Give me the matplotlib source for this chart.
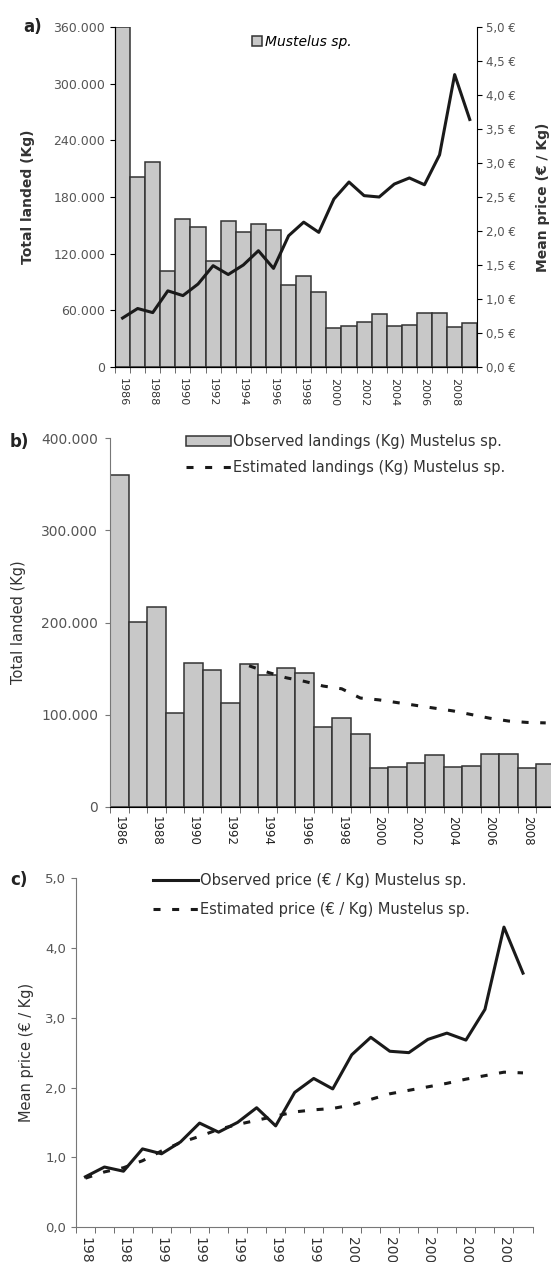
import matplotlib.pyplot as plt
import numpy as np

# datos
years = list(range(1986, 2010))
landings = [360000, 201000, 217000, 102000, 156500, 148000, 112500, 154500,
            142500, 151000, 145000, 86500, 96000, 79000, 41700, 43500,
            47500, 56500, 43500, 44500, 57000, 57000, 42000, 46500]
price_obs = [0.72, 0.86, 0.80, 1.12, 1.05, 1.22, 1.49, 1.36, 1.50, 1.71, 1.45, 1.93,
             2.13, 1.98, 2.47, 2.72, 2.52, 2.50, 2.69, 2.78, 2.68, 3.12, 4.30, 3.64]
est_years = list(range(1993, 2010))
landings_est = [153000, 146000, 140000, 136000, 131000, 128000, 118000, 116000,
                113000, 110000, 107000, 104000, 100000, 96000, 93000, 91500, 91000]
price_est = [0.70, 0.79, 0.85, 0.95, 1.09, 1.21, 1.30, 1.40, 1.47, 1.53, 1.59, 1.65,
             1.68, 1.70, 1.75, 1.83, 1.91, 1.96, 2.01, 2.06, 2.12, 2.17, 2.22, 2.21]

W, H = 551, 1262
BAR = '#c8c8c8'
EDGE = '#333333'
TXT = '#555555'
DASH = (0, (2.3, 3.8))

fig = plt.figure(figsize=(W / 100, H / 100), dpi=100)


def box(left, right, top, bottom):
    return [left / W, 1 - bottom / H, (right - left) / W, (bottom - top) / H]


x = np.arange(len(years))
xe = np.array([years.index(y) for y in est_years])


def year_axis(ax, color, size, pad):
    ax.set_xlim(-0.5, len(years) - 0.5)
    ax.set_xticks(x[::2])
    ax.set_xticklabels([str(y) for y in years[::2]], rotation=270, fontsize=size, color=color)
    ax.set_xticks(np.arange(-0.5, len(years) + 0.5, 1), minor=True)
    ax.tick_params(axis='x', which='major', length=0, pad=pad)
    ax.tick_params(axis='x', which='minor', length=4, color='#555555')


# ---- a) ----
ax1 = fig.add_axes(box(115, 477.3, 27, 367))
ax1.bar(x, landings, width=1, color=BAR, edgecolor=EDGE, linewidth=1.1, label='Mustelus sp.')
ax1.set_ylim(0, 360000)
ax1.set_yticks(range(0, 360001, 60000))
ax1.set_yticklabels([f'{v:,}'.replace(',', '.') for v in range(0, 360001, 60000)],
                    fontsize=9, color=TXT)
year_axis(ax1, '#333333', 8, 8)
ax1.spines['top'].set_visible(False)
ax1.spines['right'].set_visible(False)
ax1.set_ylabel('Total landed (Kg)', fontsize=10, fontweight='bold', color='#333333')
ax1.yaxis.set_label_coords(-0.221, 0.5)

ax1r = ax1.twinx()
ax1r.plot(x, price_obs, color='#1a1a1a', linewidth=2.2)
ax1r.set_ylim(0, 5)
ax1r.set_yticks(np.arange(0, 5.01, 0.5))
ax1r.set_yticklabels([f'{v:.1f} €'.replace('.', ',') for v in np.arange(0, 5.01, 0.5)],
                     fontsize=8.5, color=TXT)
ax1r.tick_params(axis='y', pad=3)
ax1r.spines['top'].set_visible(False)
ax1r.set_ylabel('Mean price (€ / Kg)', fontsize=10, fontweight='bold', color='#333333')
ax1r.yaxis.set_label_coords(1.162, 0.5)
ax1.legend(loc='center left', bbox_to_anchor=(252 / W, 1 - 42 / H), bbox_transform=fig.transFigure,
           frameon=False, handlelength=0.7, handleheight=0.7, handletextpad=0.25,
           borderpad=0, borderaxespad=0, prop={'style': 'italic', 'size': 10})
fig.text(23 / W, 1 - 27 / H, 'a)', fontsize=12, fontweight='bold', va='center', color='#222222')

# ---- b) ----
ax2 = fig.add_axes(box(110, 555, 438.3, 806.7))
bars = ax2.bar(x, landings, width=1, color=BAR, edgecolor=EDGE, linewidth=1.1,
               label='Observed landings (Kg) Mustelus sp.')
line, = ax2.plot(xe, landings_est, color='#1a1a1a', linewidth=2.2, linestyle=DASH,
                 label='Estimated landings (Kg) Mustelus sp.')
ax2.set_ylim(0, 400000)
ax2.set_yticks(range(0, 400001, 100000))
ax2.set_yticklabels([f'{v:,}'.replace(',', '.') for v in range(0, 400001, 100000)],
                    fontsize=10, color=TXT)
ax2.tick_params(axis='y', pad=5, color='#777777')
year_axis(ax2, '#222222', 8.5, 7)
for s in ('top', 'right'):
    ax2.spines[s].set_visible(False)
ax2.spines['left'].set_color('#777777')
ax2.set_ylabel('Total landed (Kg)', fontsize=10.5, color='#333333')
ax2.yaxis.set_label_coords(-0.188, 0.5)
ax2.legend(handles=[bars, line], loc='upper left', bbox_to_anchor=(186 / W, 1 - 434 / H),
           bbox_transform=fig.transFigure, frameon=False, fontsize=10.5, handlelength=3.1,
           handletextpad=0.1, labelspacing=0.75, borderpad=0, borderaxespad=0,
           labelcolor='#333333')
fig.text(10 / W, 1 - 442 / H, 'b)', fontsize=12, fontweight='bold', va='center', color='#222222')

# ---- c) ----
ax3 = fig.add_axes(box(75.9, 532.5, 878.3, 1227))
ax3.plot(x, price_obs, color='#1a1a1a', linewidth=2.2, label='Observed price (€ / Kg) Mustelus sp.')
ax3.plot(x, price_est, color='#1a1a1a', linewidth=2.2, linestyle=DASH,
         label='Estimated price (€ / Kg) Mustelus sp.')
ax3.set_ylim(0, 5)
ax3.set_yticks(range(0, 6))
ax3.set_yticklabels([f'{v:.1f}'.replace('.', ',') for v in range(0, 6)], fontsize=9.5, color=TXT)
ax3.tick_params(axis='y', color='#777777')
year_axis(ax3, '#333333', 10, 7)
for s in ('top', 'right'):
    ax3.spines[s].set_visible(False)
ax3.spines['left'].set_color('#777777')
ax3.spines['bottom'].set_color('#777777')
ax3.set_ylabel('Mean price (€ / Kg)', fontsize=10.5, color='#333333')
ax3.yaxis.set_label_coords(-0.092, 0.5)
ax3.legend(loc='upper left', bbox_to_anchor=(153 / W, 1 - 873 / H), bbox_transform=fig.transFigure,
           frameon=False, fontsize=10.5, handlelength=3.1, handletextpad=0.1, labelspacing=0.94,
           borderpad=0, borderaxespad=0, labelcolor='#333333')
fig.text(10 / W, 1 - 880 / H, 'c)', fontsize=12, fontweight='bold', va='center', color='#222222')

fig.savefig('out.png', dpi=100)
